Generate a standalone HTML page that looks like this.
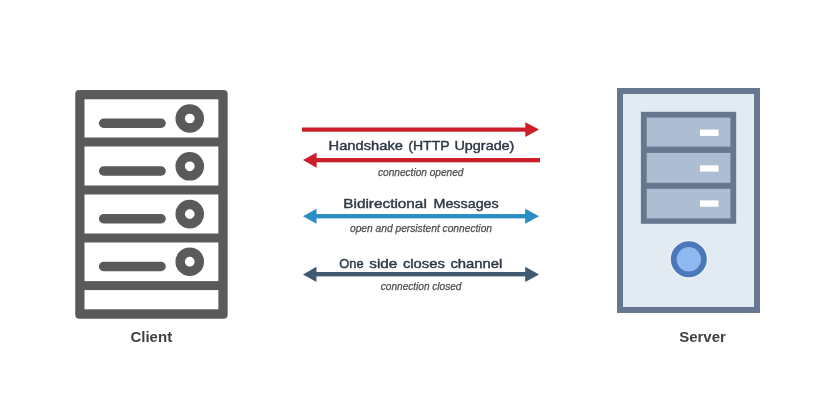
<!DOCTYPE html>
<html>
<head>
<meta charset="utf-8">
<title>WebSocket</title>
<style>
html,body{margin:0;padding:0;background:#fff;}
body{width:815px;height:400px;overflow:hidden;}
svg{display:block;will-change:transform;}
.h{font-family:"Liberation Sans",sans-serif;font-size:13.1px;fill:#2c3844;stroke:#2c3844;stroke-width:0.42px;}
.s{font-family:"Liberation Sans",sans-serif;font-size:11px;font-style:italic;fill:#4c4c4c;stroke:#4c4c4c;stroke-width:0.25px;}
.l{font-family:"Liberation Sans",sans-serif;font-size:15px;font-weight:bold;fill:#3f3f3f;}
</style>
</head>
<body>
<svg width="815" height="400" viewBox="0 0 815 400">
<rect width="815" height="400" fill="#fff"/>
<!-- client rack -->
<rect x="75.25" y="90" width="152.4" height="228.85" rx="4.1" fill="#5a5a5a"/>
<g fill="#fff">
<rect x="84.5" y="99.3" width="133.85" height="38.2"/>
<rect x="84.5" y="146.5" width="133.85" height="39"/>
<rect x="84.5" y="194.5" width="133.85" height="39"/>
<rect x="84.5" y="242.5" width="133.85" height="38.6"/>
<rect x="84.5" y="290.1" width="133.85" height="19.2"/>
</g>
<g fill="none" stroke="#5a5a5a">
<g stroke-width="9.4" stroke-linecap="round">
<line x1="103.6" y1="123.2" x2="161.1" y2="123.2"/>
<line x1="103.6" y1="171" x2="161.1" y2="171"/>
<line x1="103.6" y1="218.8" x2="161.1" y2="218.8"/>
<line x1="103.6" y1="266.5" x2="161.1" y2="266.5"/>
</g>
<g stroke-width="9.45">
<circle cx="189.75" cy="118.5" r="9.575"/>
<circle cx="189.75" cy="166.3" r="9.575"/>
<circle cx="189.75" cy="214.1" r="9.575"/>
<circle cx="189.75" cy="261.7" r="9.575"/>
</g>
</g>
<text class="l" x="151.3" y="341.6" text-anchor="middle">Client</text>

<!-- arrows -->
<g fill="#cc1e29">
<rect x="302" y="127.5" width="225" height="4.2"/>
<polygon points="525.3,122.2 539,129.55 525.3,136.9"/>
<rect x="315" y="158" width="225" height="4.3"/>
<polygon points="316.6,152.5 303,160.1 316.6,167.7"/>
</g>
<g fill="#2a8dc4">
<rect x="315" y="214.05" width="212" height="4.35"/>
<polygon points="316.5,208.8 303,216.3 316.5,223.8"/>
<polygon points="525.2,208.8 539,216.3 525.2,223.8"/>
</g>
<g fill="#3f5a70">
<rect x="315" y="272" width="212" height="4.4"/>
<polygon points="316.5,266.8 303,274.4 316.5,282"/>
<polygon points="525.2,266.8 539,274.4 525.2,282"/>
</g>
<g class="h">
<text x="328.6" y="150" textLength="74.3" lengthAdjust="spacingAndGlyphs">Handshake</text>
<text x="408.3" y="150" textLength="41.3" lengthAdjust="spacingAndGlyphs">(HTTP</text>
<text x="454.5" y="150" textLength="59.9" lengthAdjust="spacingAndGlyphs">Upgrade)</text>
<text x="343.3" y="208" textLength="83.5" lengthAdjust="spacingAndGlyphs">Bidirectional</text>
<text x="433.5" y="208" textLength="65.2" lengthAdjust="spacingAndGlyphs">Messages</text>
<text x="339.3" y="268.4" textLength="24.3" lengthAdjust="spacingAndGlyphs">One</text>
<text x="369.3" y="268.4" textLength="28.1" lengthAdjust="spacingAndGlyphs">side</text>
<text x="402.9" y="268.4" textLength="41.9" lengthAdjust="spacingAndGlyphs">closes</text>
<text x="450.4" y="268.4" textLength="51.9" lengthAdjust="spacingAndGlyphs">channel</text>
</g>
<g class="s">
<text x="378" y="175.8" textLength="85.4" lengthAdjust="spacingAndGlyphs">connection opened</text>
<text x="350" y="232.1" textLength="142" lengthAdjust="spacingAndGlyphs">open and persistent connection</text>
<text x="380.8" y="290" textLength="80.6" lengthAdjust="spacingAndGlyphs">connection closed</text>
</g>

<!-- server -->
<rect x="620" y="91" width="137" height="219" fill="#e2ebf2" stroke="#66788f" stroke-width="6"/>
<rect x="640.9" y="111.8" width="95.3" height="112" fill="#66788f"/>
<rect x="646.7" y="117.6" width="83.7" height="100.8" fill="#adbdd2"/>
<rect x="643.7" y="146.6" width="89.6" height="6.3" fill="#66788f"/>
<rect x="643.7" y="182.8" width="89.6" height="6" fill="#66788f"/>
<g fill="#fff">
<rect x="700" y="129.6" width="18.5" height="6.3"/>
<rect x="700" y="165.3" width="18.5" height="6.3"/>
<rect x="700" y="200.4" width="18.5" height="6.3"/>
</g>
<circle cx="688.8" cy="259.3" r="19.1" fill="#f1f6fa"/>
<circle cx="688.8" cy="259.3" r="15.1" fill="#8db8f0" stroke="#4a78b8" stroke-width="5.8"/>
<text class="l" x="702.5" y="341.6" text-anchor="middle">Server</text>
</svg>
</body>
</html>
